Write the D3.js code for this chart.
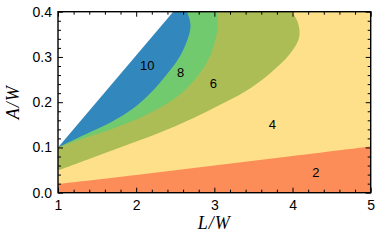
<!DOCTYPE html>
<html><head><meta charset="utf-8">
<script src="https://cdn.jsdelivr.net/npm/d3@7"></script>
<style>body{margin:0;background:#fff}svg{display:block}</style>
</head><body>
<svg id="c" width="381" height="244"></svg>
<script>
// ---- data ----
const levels = [2, 4, 6, 8, 10];
const levelColors = ["#fc8d59", "#fee08b", "#adbd55", "#72ca6e", "#3288bd"];
// boundary between level 2 and 4
const b4L = [1, 2, 3, 4, 5];
const b4A = [0.019, 0.039, 0.060, 0.081, 0.102];
// boundary between level 4 and 6
const b6L = [1, 1.5, 2, 2.5, 3, 3.4, 3.7, 3.95, 4.07, 4.09, 4.06, 3.99];
const b6A = [0.049, 0.081, 0.113, 0.147, 0.188, 0.224, 0.262, 0.303, 0.335, 0.355, 0.38, 0.4];
// boundary between level 6 and 8
const b8L = [1, 1.4, 1.8, 2.25, 2.58, 2.78, 2.92, 3.0, 3.045, 3.03];
const b8A = [0.1, 0.124, 0.148, 0.183, 0.22, 0.256, 0.293, 0.33, 0.37, 0.4];
// boundary between level 8 and 10
const b10L = [1, 1.4, 1.7, 1.95, 2.18, 2.37, 2.53, 2.64, 2.695, 2.68, 2.65];
const b10A = [0.1, 0.133, 0.158, 0.185, 0.22, 0.257, 0.293, 0.331, 0.365, 0.385, 0.4];
// edge of the defined domain (white above)
const edgeL = [1, 2.474];
const edgeA = [0.1, 0.4];
const xTicks = [1, 2, 3, 4, 5];
const yTicks = [0, 0.1, 0.2, 0.3, 0.4];
const labelText = ["2", "4", "6", "8", "10"];
const labelL = [4.30, 3.741, 2.987, 2.570, 2.142];
const labelA = [0.044, 0.150, 0.242, 0.265, 0.282];

// ---- drawing ----
const svg = d3.select("#c");
const x = d3.scaleLinear().domain([1, 5]).range([58, 370.7]);
const y = d3.scaleLinear().domain([0, 0.4]).range([192.7, 11.7]);
const [x0, x1] = x.range(), [y0, y1] = y.range();

svg.append("clipPath").attr("id", "clip").append("rect")
  .attr("x", x0).attr("y", y1).attr("width", x1 - x0).attr("height", y0 - y1);
const plot = svg.append("g").attr("clip-path", "url(#clip)");

// base region (level 2)
plot.append("rect").attr("x", x0).attr("y", y1).attr("width", x1 - x0).attr("height", y0 - y1)
  .attr("fill", levelColors[0]);

const line = d3.line().x(d => x(d[0])).y(d => y(d[1])).curve(d3.curveCatmullRom.alpha(0.5));
function region(Ls, As, fill) {
  const pts = Ls.map((l, i) => [l, As[i]]);
  const last = pts[pts.length - 1];
  let d = line(pts);
  if (last[1] < 0.4) d += `L${x(5)},${y(0.4)}`;
  d += `L${x(1)},${y(0.4)}Z`;
  plot.append("path").attr("d", d).attr("fill", fill);
}
region(b4L, b4A, levelColors[1]);
region(b6L, b6A, levelColors[2]);
region(b8L, b8A, levelColors[3]);
region(b10L, b10A, levelColors[4]);
region(edgeL, edgeA, "#ffffff");

// contour labels
svg.append("g").selectAll("text").data(labelText).join("text")
  .attr("x", (d, i) => x(labelL[i])).attr("y", (d, i) => y(labelA[i]))
  .attr("text-anchor", "middle").attr("dominant-baseline", "central")
  .attr("font-family", "Liberation Sans, Arial, sans-serif").attr("font-size", 13)
  .attr("fill", "#000").text(d => d);

// axes
const fontFam = "Liberation Sans, Arial, sans-serif";
function styleAxis(g) {
  g.select(".domain").remove();
  g.selectAll("line").attr("stroke", "#000").attr("stroke-width", 1);
  g.selectAll("text").attr("font-family", fontFam).attr("font-size", 14).attr("fill", "#000");
}
const xMinor = x.ticks(20).filter(v => !xTicks.some(t => Math.abs(t - v) < 1e-9));
const yMinor = y.ticks(20).filter(v => !yTicks.some(t => Math.abs(t - v) < 1e-9));

svg.append("g").attr("transform", `translate(0,${y0})`)
  .call(d3.axisBottom(x).tickValues(xTicks).tickSize(-5).tickPadding(7).tickFormat(d3.format("d"))).call(styleAxis);
svg.append("g").attr("transform", `translate(0,${y0})`)
  .call(d3.axisBottom(x).tickValues(xMinor).tickSize(-3).tickFormat("")).call(styleAxis);
svg.append("g").attr("transform", `translate(0,${y1})`)
  .call(d3.axisTop(x).tickValues(xTicks).tickSize(-5).tickFormat("")).call(styleAxis);
svg.append("g").attr("transform", `translate(0,${y1})`)
  .call(d3.axisTop(x).tickValues(xMinor).tickSize(-3).tickFormat("")).call(styleAxis);
svg.append("g").attr("transform", `translate(${x0},0)`)
  .call(d3.axisLeft(y).tickValues(yTicks).tickSize(-5).tickPadding(6).tickFormat(d3.format(".1f"))).call(styleAxis);
svg.append("g").attr("transform", `translate(${x0},0)`)
  .call(d3.axisLeft(y).tickValues(yMinor).tickSize(-3).tickFormat("")).call(styleAxis);
svg.append("g").attr("transform", `translate(${x1},0)`)
  .call(d3.axisRight(y).tickValues(yTicks).tickSize(-5).tickFormat("")).call(styleAxis);
svg.append("g").attr("transform", `translate(${x1},0)`)
  .call(d3.axisRight(y).tickValues(yMinor).tickSize(-3).tickFormat("")).call(styleAxis);

// frame
svg.append("rect").attr("x", x0).attr("y", y1).attr("width", x1 - x0).attr("height", y0 - y1)
  .attr("fill", "none").attr("stroke", "#000").attr("stroke-width", 1.4);

// axis titles
svg.append("text").attr("x", (x0 + x1) / 2).attr("y", 229).attr("text-anchor", "middle")
  .attr("font-family", "Liberation Serif, Times New Roman, serif").attr("font-style", "italic")
  .attr("font-size", 18).attr("letter-spacing", 1).text("L/W");
svg.append("text").attr("transform", `translate(19,${(y0 + y1) / 2}) rotate(-90)`).attr("text-anchor", "middle")
  .attr("font-family", "Liberation Serif, Times New Roman, serif").attr("font-style", "italic")
  .attr("font-size", 18).attr("letter-spacing", 1).text("A/W");
</script>
</body></html>
